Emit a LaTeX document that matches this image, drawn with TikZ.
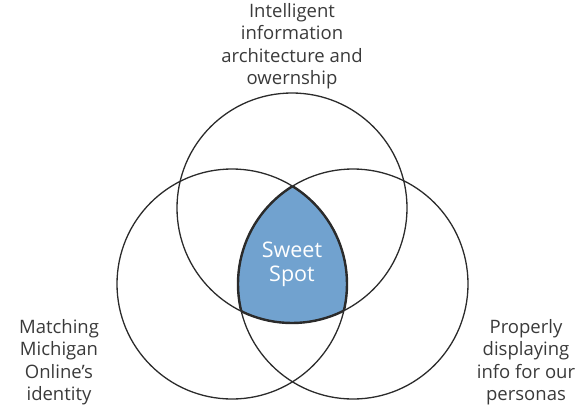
\documentclass[tikz,border=0pt]{standalone}
\usepackage{fontspec}
\setmainfont{Open Sans}
\usepackage{tikz}
\usetikzlibrary{positioning}

\definecolor{ringgray}{HTML}{2B2B2B}
\definecolor{labelgray}{HTML}{3A3A3A}
\definecolor{sweetblue}{HTML}{71A2CF}

\tikzset{
  ring/.style={draw=ringgray, line width=1.3pt},
  rim/.style={draw=ringgray, line width=2.4pt},
  goal/.style={align=center, text=labelgray, inner sep=0pt,
    font=\fontsize{18.5}{22.5}\selectfont},
  sweet/.style={align=center, text=white, inner sep=0pt,
    font=\fontsize{21.5}{24}\selectfont}
}

\begin{document}
\begin{tikzpicture}[x=1pt,y=-1pt]

  \useasboundingbox (0,0) rectangle (579,410);

  \coordinate (T) at (292,208);
  \coordinate (L) at (232,284);
  \coordinate (R) at (353,284);

  % sweet spot fill
  \begin{scope}
    \clip (T) circle (115);
    \clip (L) circle (115);
    \fill[sweetblue] (R) circle (115);
  \end{scope}

  \draw[ring] (T) circle (115);
  \draw[ring] (L) circle (115);
  \draw[ring] (R) circle (115);

  % thick rim of the sweet spot
  \begin{scope}
    \clip (L) circle (115); \clip (R) circle (115);
    \draw[rim] (T) circle (115);
  \end{scope}
  \begin{scope}
    \clip (T) circle (115); \clip (R) circle (115);
    \draw[rim] (L) circle (115);
  \end{scope}
  \begin{scope}
    \clip (T) circle (115); \clip (L) circle (115);
    \draw[rim] (R) circle (115);
  \end{scope}

  \node[sweet] (spot) at (292,264) {Sweet\\Spot};

  \node[goal] (arch) at (292,46) {Intelligent\\information\\architecture and\\owernship};
  \node[goal] (ident) at (59,362) {Matching\\Michigan\\Online's\\identity};
  \node[goal] (pers) at (526,362) {Properly\\displaying\\info for our\\personas};

\end{tikzpicture}
\end{document}
